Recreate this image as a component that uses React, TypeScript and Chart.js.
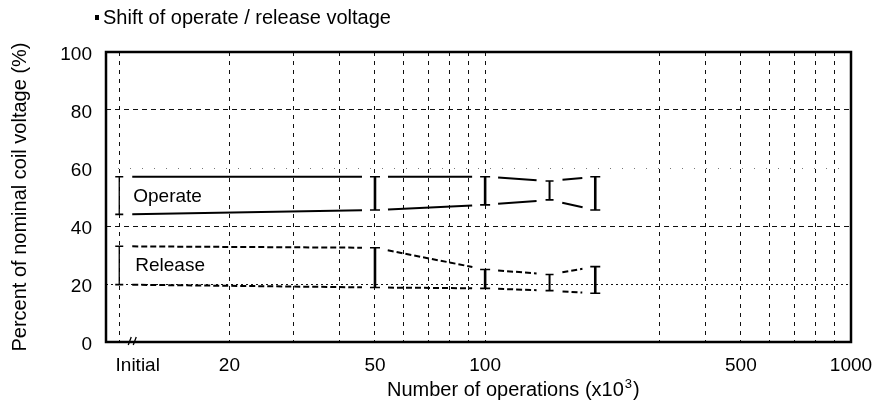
import React, { useEffect, useRef } from 'react';
import { Chart, registerables } from 'chart.js';

Chart.register(...registerables);

// Number of operations (x10^3). "Initial" is plotted at 10 on the log axis.
const operations = [10, 50, 100, 150, 200];
// Operate voltage range (% of nominal coil voltage)
const operateMax = [57, 57, 57, 55.5, 57];
const operateMin = [44, 45.5, 47.3, 49, 45.5];
// Release voltage range (% of nominal coil voltage)
const releaseMax = [33, 32.5, 25, 23.3, 26];
const releaseMin = [19.8, 18.8, 18.5, 17.7, 16.8];

// Axis ticks / grid
const xGridValues = [10, 20, 30, 40, 50, 60, 70, 80, 90, 100, 300, 400, 500, 600, 700, 800, 900, 1000];
const xTickLabels: Record<number, string> = {
  10: '       Initial',
  20: '20',
  50: '50',
  100: '100',
  500: '500',
  1000: '1000',
};
const yTickValues = [0, 20, 40, 60, 80, 100];

const FONT = '"Liberation Sans", Arial, sans-serif';

const barStyles = [
  { w: 1.3, cap: 8 },
  { w: 2.6, cap: 10 },
  { w: 2.6, cap: 10 },
  { w: 2, cap: 8 },
  { w: 2.6, cap: 10 },
];

const gapLines = {
  id: 'gapLines',
  afterDatasetsDraw(chart: any) {
    const ctx = chart.ctx;
    const gap = 13;
    chart.data.datasets.forEach((ds: any, di: number) => {
      const pts = chart.getDatasetMeta(di).data;
      ctx.save();
      ctx.strokeStyle = ds.borderColor;
      ctx.lineWidth = ds.borderWidth;
      ctx.setLineDash(ds.borderDash || []);
      for (let i = 0; i < pts.length - 1; i++) {
        const a = pts[i];
        const b = pts[i + 1];
        const dx = b.x - a.x;
        const dy = b.y - a.y;
        const len = Math.hypot(dx, dy);
        const ux = dx / len;
        const uy = dy / len;
        ctx.beginPath();
        ctx.moveTo(a.x + ux * gap, a.y + uy * gap);
        ctx.lineTo(b.x - ux * gap, b.y - uy * gap);
        ctx.stroke();
      }
      ctx.restore();
    });
  },
};

const errorBars = {
  id: 'errorBars',
  afterDatasetsDraw(chart: any) {
    const ctx = chart.ctx;
    const xs = chart.scales.x;
    const ys = chart.scales.y;
    const groups = [
      [operateMax, operateMin],
      [releaseMax, releaseMin],
    ];
    ctx.save();
    ctx.strokeStyle = '#000';
    ctx.setLineDash([]);
    operations.forEach((op, i) => {
      const px = xs.getPixelForValue(op);
      const st = barStyles[i];
      groups.forEach(([hi, lo]) => {
        const y1 = ys.getPixelForValue(hi[i]);
        const y2 = ys.getPixelForValue(lo[i]);
        ctx.lineWidth = st.w;
        ctx.beginPath();
        ctx.moveTo(px, y1);
        ctx.lineTo(px, y2);
        ctx.stroke();
        ctx.lineWidth = 1.6;
        ctx.beginPath();
        ctx.moveTo(px - st.cap / 2, y1);
        ctx.lineTo(px + st.cap / 2, y1);
        ctx.moveTo(px - st.cap / 2, y2);
        ctx.lineTo(px + st.cap / 2, y2);
        ctx.stroke();
      });
    });
    ctx.restore();
  },
};

const annotations = {
  id: 'annotations',
  afterDraw(chart: any) {
    const ctx = chart.ctx;
    const { left, right, top, bottom } = chart.chartArea;
    const xs = chart.scales.x;
    const ys = chart.scales.y;
    ctx.save();
    // frame
    ctx.strokeStyle = '#000';
    ctx.lineWidth = 2.5;
    ctx.setLineDash([]);
    ctx.strokeRect(left, top, right - left, bottom - top);

    // axis break mark
    ctx.lineWidth = 1.3;
    const bx = xs.getPixelForValue(10) + 9;
    ctx.beginPath();
    ctx.moveTo(bx, bottom + 3);
    ctx.lineTo(bx + 3, bottom - 5);
    ctx.moveTo(bx + 5, bottom + 3);
    ctx.lineTo(bx + 8, bottom - 5);
    ctx.stroke();

    ctx.fillStyle = '#000';
    ctx.textBaseline = 'alphabetic';
    ctx.textAlign = 'left';

    // title
    ctx.fillRect(95, 15, 4, 5);
    ctx.font = `20px ${FONT}`;
    ctx.fillText('Shift of operate / release voltage', 103, 24);

    // series labels
    ctx.font = `19px ${FONT}`;
    const x0 = xs.getPixelForValue(10);
    ctx.fillText('Operate', x0 + 14, ys.getPixelForValue(48.3));
    ctx.fillText('Release', x0 + 16, ys.getPixelForValue(24.5));

    // x axis title with superscript
    ctx.font = `20px ${FONT}`;
    const main = 'Number of operations (x10';
    const tx = 387;
    const ty = 396;
    ctx.fillText(main, tx, ty);
    let w = ctx.measureText(main).width;
    ctx.font = `13px ${FONT}`;
    ctx.fillText('3', tx + w + 1, ty - 8);
    w += ctx.measureText('3').width + 2;
    ctx.font = `20px ${FONT}`;
    ctx.fillText(')', tx + w, ty);
    ctx.restore();
  },
};

export default function App() {
  const canvasRef = useRef<HTMLCanvasElement | null>(null);

  useEffect(() => {
    const canvas = canvasRef.current;
    if (!canvas) return;
    const mk = (data: number[], dash: number[]) => ({
      data: operations.map((x, i) => ({ x, y: data[i] })),
      borderColor: '#000',
      borderWidth: 2,
      borderDash: dash,
      showLine: false,
      pointRadius: 0,
    });
    const chart = new Chart(canvas, {
      type: 'line',
      data: {
        datasets: [
          { label: 'Operate max', ...mk(operateMax, []) },
          { label: 'Operate min', ...mk(operateMin, []) },
          { label: 'Release max', ...mk(releaseMax, [6, 3]) },
          { label: 'Release min', ...mk(releaseMin, [6, 3]) },
        ] as any,
      },
      options: {
        animation: false,
        responsive: false,
        maintainAspectRatio: false,
        layout: { padding: { top: 52, right: 23, left: 0, bottom: 0 } },
        plugins: {
          legend: { display: false },
          tooltip: { enabled: false },
          title: { display: false },
        },
        scales: {
          x: {
            type: 'logarithmic',
            min: 9.2,
            max: 1000,
            afterBuildTicks: (s: any) => {
              s.ticks = xGridValues.map((v) => ({ value: v }));
            },
            afterFit: (s: any) => {
              s.height = 72;
              s.paddingLeft = 0;
              s.paddingRight = 0;
            },
            ticks: {
              autoSkip: false,
              maxRotation: 0,
              minRotation: 0,
              padding: 12,
              color: '#000',
              font: { family: FONT, size: 19 },
              callback: (v: any) => xTickLabels[Number(v)] ?? '',
            },
            grid: {
              drawTicks: false,
              lineWidth: 1,
              color: (c: any) => (c.tick && c.tick.value >= 1000 ? 'rgba(0,0,0,0)' : '#111'),
            },
            border: { display: false, dash: [4, 5] },
          },
          y: {
            min: 0,
            max: 100,
            afterBuildTicks: (s: any) => {
              s.ticks = yTickValues.map((v) => ({ value: v }));
            },
            afterFit: (s: any) => {
              s.width = 106;
              s.paddingTop = 0;
              s.paddingBottom = 0;
            },
            ticks: {
              padding: 14,
              labelOffset: 3,
              color: '#000',
              font: { family: FONT, size: 19 },
            },
            grid: {
              drawTicks: false,
              lineWidth: 1,
              color: (c: any) => {
                const v = c.tick ? c.tick.value : 0;
                if (v === 0 || v === 100) return 'rgba(0,0,0,0)';
                if (v === 60) return '#777';
                return '#111';
              },
            },
            border: {
              display: false,
              dash: (c: any) => {
                const v = c.tick ? c.tick.value : 0;
                if (v === 20) return [2, 3];
                if (v === 60) return [1, 11];
                return [5, 4];
              },
            },
            title: {
              display: true,
              text: 'Percent of nominal coil voltage (%)',
              color: '#000',
              font: { family: FONT, size: 20 },
              padding: { top: 8, bottom: 0 },
            },
          },
        },
      } as any,
      plugins: [gapLines, errorBars, annotations],
    });
    return () => chart.destroy();
  }, []);

  return (
    <div style={{ position: 'fixed', left: 0, top: 0, width: 874, height: 414, background: '#fff' }}>
      <canvas ref={canvasRef} width={874} height={414} style={{ display: 'block', width: 874, height: 414 }} />
    </div>
  );
}
